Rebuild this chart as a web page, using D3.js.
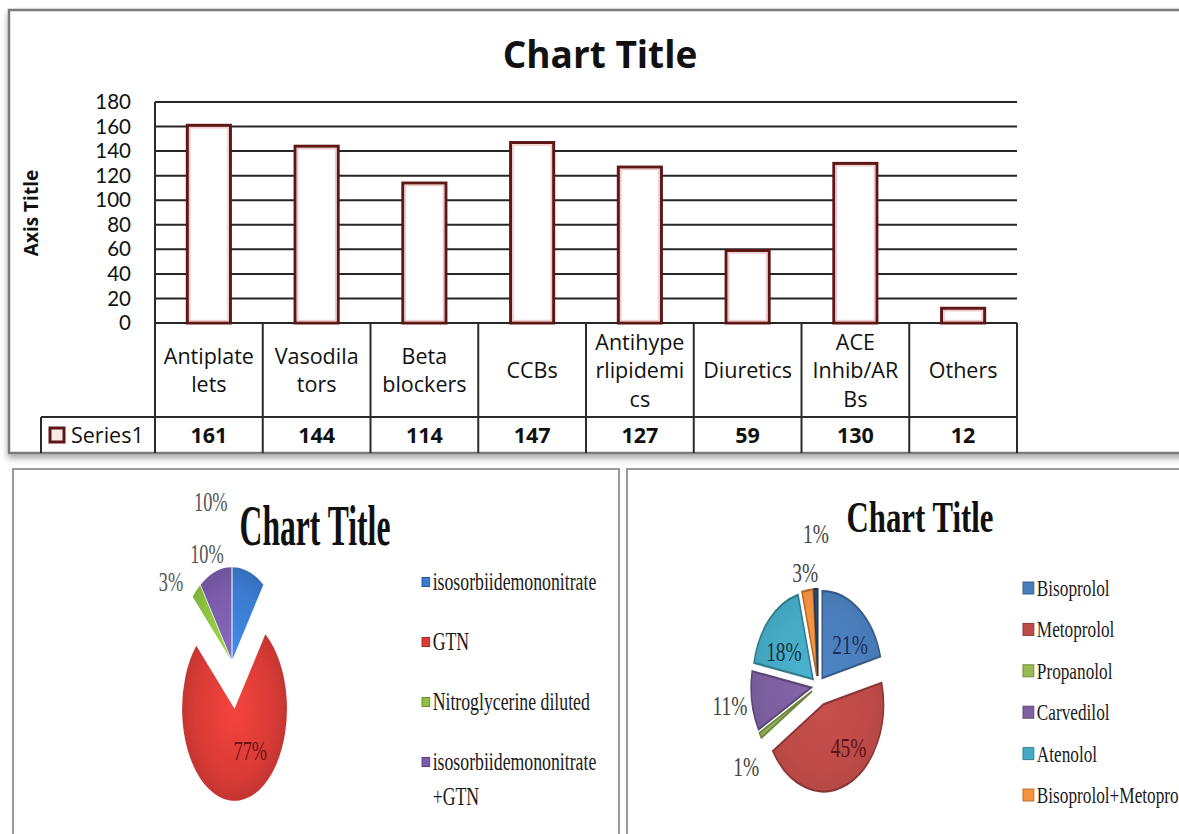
<!DOCTYPE html>
<html>
<head>
<meta charset="utf-8">
<script src="https://cdn.jsdelivr.net/npm/d3@7"></script>
<style>
  body { margin: 0; background: #fff; }
  svg { display: block; }
</style>
</head>
<body>
<svg id="canvas" width="1179" height="834"></svg>
<script>
//bar chart data
const categories = ['Antiplatelets', 'Vasodilators', 'Beta blockers', 'CCBs', 'Antihyperlipidemics', 'Diuretics', 'ACE Inhib/ARBs', 'Others'];
//the data table wraps the names like this
const categoryLines = [['Antiplate', 'lets'], ['Vasodila', 'tors'], ['Beta', 'blockers'], ['CCBs'], ['Antihype', 'rlipidemi', 'cs'], ['Diuretics'], ['ACE', 'Inhib/AR', 'Bs'], ['Others']];
const series1 = [161, 144, 114, 147, 127, 59, 130, 12];
const yTicks = [0, 20, 40, 60, 80, 100, 120, 140, 160, 180];

//left pie (nitrates)
const leftNames = ['isosorbiidemononitrate', 'GTN', 'Nitroglycerine diluted', 'isosorbiidemononitrate\n+GTN'];
const leftValues = [10, 77, 3, 10];

//right pie (beta blockers), the 7th legend entry is cut off in the picture
const rightNames = ['Bisoprolol', 'Metoprolol', 'Propanolol', 'Carvedilol', 'Atenolol', 'Bisoprolol+Metoprolol'];
const rightValues = [21, 45, 1, 11, 18, 3, 1];

const leftColors = ['#3b7bcf', '#d93b36', '#8cc23e', '#7b5caa'];
const rightColors = ['#4a7ebb', '#be4b48', '#98b954', '#7d60a0', '#46aac5', '#f69240', '#2c4d75'];

let canvas = d3.select('#canvas');
let defs = canvas.append('defs');

let shadow = defs.append('filter').attr('id', 'shadow').attr('x', '-5%').attr('y', '-5%').attr('width', '110%').attr('height', '115%');
shadow.append('feDropShadow').attr('dx', 0).attr('dy', 4).attr('stdDeviation', 3).attr('flood-color', '#000').attr('flood-opacity', 0.35);

let blur = defs.append('filter').attr('id', 'soft');
blur.append('feGaussianBlur').attr('stdDeviation', 0.6);

//squeezed text, the pie pictures are narrowed horizontally
let squeezed = (parent, x, y, txt, sx) => {
    return parent.append('text')
        .attr('transform', `translate(${x},${y}) scale(${sx},1)`)
        .text(txt);
};

// ---------------- top: column chart with data table ----------------
let drawBars = () => {
    let g = canvas.append('g').style('font-family', '"Open Sans", sans-serif');

    g.append('rect')
        .attr('x', 9).attr('y', 10).attr('width', 1200).attr('height', 443)
        .attr('fill', '#fff').attr('stroke', '#7a7a7a').attr('stroke-width', 2.5)
        .attr('filter', 'url(#shadow)');

    let plotLeft = 155, plotRight = 1017, base = 323, plotTop = 102;
    let x = d3.scaleBand().domain(categories).range([plotLeft, plotRight]).paddingInner(0.6).paddingOuter(0.3);
    let y = d3.scaleLinear().domain([0, 180]).range([base, plotTop]);
    let cellLeft = (c) => x(c) - (x.step() - x.bandwidth()) / 2;

    g.append('text')
        .attr('x', 600).attr('y', 68)
        .attr('text-anchor', 'middle')
        .attr('font-size', 37).attr('font-weight', 'bold').attr('fill', '#111')
        .text('Chart Title');

    g.append('text')
        .attr('transform', `translate(38,213) rotate(-90)`)
        .attr('text-anchor', 'middle')
        .attr('font-size', 19).attr('font-weight', 'bold').attr('fill', '#111')
        .text('Axis Title');

    //gridlines
    g.selectAll('line.grid')
        .data(yTicks)
        .enter()
        .append('line')
        .attr('class', 'grid')
        .attr('x1', plotLeft).attr('x2', plotRight)
        .attr('y1', (t) => y(t)).attr('y2', (t) => y(t))
        .attr('stroke', '#262626').attr('stroke-width', 2);

    let axis = g.append('g')
        .attr('transform', `translate(${plotLeft},0)`)
        .call(d3.axisLeft(y).tickValues(yTicks).tickSize(0).tickPadding(24));
    axis.select('.domain').remove();
    axis.selectAll('text')
        .attr('font-family', 'Lato, sans-serif')
        .attr('font-size', 20.5).attr('fill', '#111');

    //bars
    let bars = g.selectAll('g.bar')
        .data(series1)
        .enter()
        .append('g')
        .attr('class', 'bar');
    bars.append('rect')
        .attr('x', (d, i) => x(categories[i]))
        .attr('y', (d) => y(d))
        .attr('width', x.bandwidth())
        .attr('height', (d) => base - y(d))
        .attr('fill', '#fff')
        .attr('stroke', '#5e1616').attr('stroke-width', 3)
        .attr('filter', 'url(#soft)');
    bars.append('rect')
        .attr('x', (d, i) => x(categories[i]) + 2.5)
        .attr('y', (d) => y(d) + 2.5)
        .attr('width', x.bandwidth() - 5)
        .attr('height', (d) => Math.max(0, base - y(d) - 5))
        .attr('fill', 'none')
        .attr('stroke', '#efc9c9').attr('stroke-width', 1.5);

    //data table lines
    let tableLine = (x1, y1, x2, y2) => {
        g.append('line')
            .attr('x1', x1).attr('y1', y1).attr('x2', x2).attr('y2', y2)
            .attr('stroke', '#2b2b2b').attr('stroke-width', 2);
    };
    tableLine(plotLeft, plotTop, plotLeft, 453);
    tableLine(41, 417, plotRight, 417);
    tableLine(41, 417, 41, 453);
    categories.forEach((c) => {
        tableLine(cellLeft(c) + x.step(), base, cellLeft(c) + x.step(), 453);
    });

    //category names in the table
    let lineH = 28.5;
    categories.forEach((c, i) => {
        let lines = categoryLines[i];
        let cx = x(c) + x.bandwidth() / 2;
        lines.forEach((ln, k) => {
            g.append('text')
                .attr('x', cx)
                .attr('y', 370 - (lines.length - 1) * lineH / 2 + k * lineH + 8)
                .attr('text-anchor', 'middle')
                .attr('font-size', 21.5).attr('fill', '#111')
                .text(ln);
        });
        g.append('text')
            .attr('x', cx).attr('y', 443)
            .attr('text-anchor', 'middle')
            .attr('font-size', 21.5).attr('font-weight', 'bold').attr('fill', '#111')
            .text(series1[i]);
    });

    //series key in the table
    g.append('rect')
        .attr('x', 50).attr('y', 428).attr('width', 14).attr('height', 14)
        .attr('fill', '#fbeaea').attr('stroke', '#5e1616').attr('stroke-width', 3);
    g.append('text')
        .attr('x', 71).attr('y', 443)
        .attr('font-size', 21.5).attr('fill', '#111')
        .text('Series1');
};

// ---------------- bottom: exploded pies ----------------
let drawPie = (o) => {
    let g = canvas.append('g').style('font-family', '"Liberation Serif", "Times New Roman", serif');

    g.append('rect')
        .attr('x', o.box[0]).attr('y', o.box[1]).attr('width', o.box[2]).attr('height', o.box[3])
        .attr('fill', '#fff').attr('stroke', '#9a9a9a').attr('stroke-width', 2);

    squeezed(g, o.titleX, o.titleY, 'Chart Title', o.titleSx)
        .attr('text-anchor', 'middle')
        .attr('font-size', o.titleSize).attr('font-weight', 'bold').attr('fill', '#111');

    let pieG = g.append('g').attr('transform', `translate(${o.cx},${o.cy}) scale(${o.sx},1)`);
    let arcs = d3.pie().sort(null)(o.values);
    let arc = d3.arc().innerRadius(0).outerRadius(o.r);

    //a light radial shade gives the slices their glossy look
    o.colors.forEach((c, i) => {
        let grad = defs.append('radialGradient')
            .attr('id', `${o.id}-g${i}`)
            .attr('gradientUnits', 'userSpaceOnUse')
            .attr('cx', 0).attr('cy', 0).attr('r', o.r);
        grad.append('stop').attr('offset', '0%').attr('stop-color', d3.color(c).brighter(o.gloss));
        grad.append('stop').attr('offset', '75%').attr('stop-color', c);
        grad.append('stop').attr('offset', '100%').attr('stop-color', d3.color(c).darker(o.gloss * 0.8));
    });

    pieG.selectAll('path')
        .data(arcs)
        .enter()
        .append('path')
        .attr('transform', (d) => {
            let a = (d.startAngle + d.endAngle) / 2;
            let e = o.explode[d.index];
            return `translate(${Math.sin(a) * e},${-Math.cos(a) * e})`;
        })
        .attr('d', arc)
        .attr('fill', (d) => `url(#${o.id}-g${d.index})`)
        .attr('stroke', (d) => o.edge ? d3.color(o.colors[d.index]).darker(0.9) : 'none')
        .attr('stroke-width', 2.2);

    //percentage labels
    arcs.forEach((d) => {
        let [deg, rr] = o.labelPolar[d.index];
        let a = deg * Math.PI / 180;
        squeezed(g, o.cx + Math.sin(a) * rr * o.sx, o.cy - Math.cos(a) * rr, `${d.data}%`, o.labelSx)
            .attr('text-anchor', 'middle')
            .attr('dominant-baseline', 'central')
            .attr('font-size', o.labelSize)
            .attr('fill', o.labelColors[d.index]);
    });

    //legend
    o.names.forEach((name, i) => {
        let ly = o.legendY + i * o.legendStep;
        g.append('rect')
            .attr('x', o.legendX).attr('y', ly - o.key / 2)
            .attr('width', o.key * o.keySx).attr('height', o.key)
            .attr('fill', o.colors[i])
            .attr('stroke', d3.color(o.colors[i]).darker(0.8)).attr('stroke-width', 1);
        name.split('\n').forEach((ln, k) => {
            squeezed(g, o.legendX + o.key * o.keySx + 3, ly + k * 35, ln, o.legendSx)
                .attr('dominant-baseline', 'central')
                .attr('font-size', o.legendSize).attr('fill', '#1a1a1a');
        });
    });
};

drawBars();

drawPie({
    id: 'left', box: [13, 469, 606, 380],
    titleX: 315, titleY: 545, titleSize: 56, titleSx: 0.565,
    cx: 232, cy: 662, r: 92, sx: 0.57,
    values: leftValues, colors: leftColors, names: leftNames,
    explode: [3, 47, 3, 3], gloss: 0.35, edge: false,
    labelPolar: [[347, 165], [160, 94], [307, 134], [338, 117]],
    labelSize: 27, labelSx: 0.68,
    labelColors: ['#555', '#6b1212', '#555', '#555'],
    legendX: 422, legendY: 582, legendStep: 60, key: 9, keySx: 0.85,
    legendSize: 25, legendSx: 0.71
});

drawPie({
    id: 'right', box: [627, 469, 600, 380],
    titleX: 920, titleY: 532, titleSize: 44, titleSx: 0.70,
    cx: 818, cy: 686, r: 87, sx: 0.69,
    values: rightValues, colors: rightColors, names: rightNames,
    explode: [10, 20, 10, 10, 10, 10, 10], gloss: 0.15, edge: true,
    labelPolar: [[48.7, 62], [144.3, 76], [232, 132], [261.3, 129], [304.7, 60], [350.8, 115], [358.9, 152]],
    labelSize: 27, labelSx: 0.72,
    labelColors: ['#1c2f55', '#5a1414', '#444', '#444', '#17323d', '#444', '#444'],
    legendX: 1023, legendY: 588, legendStep: 41.4, key: 12, keySx: 0.9,
    legendSize: 23, legendSx: 0.75
});
</script>
</body>
</html>
